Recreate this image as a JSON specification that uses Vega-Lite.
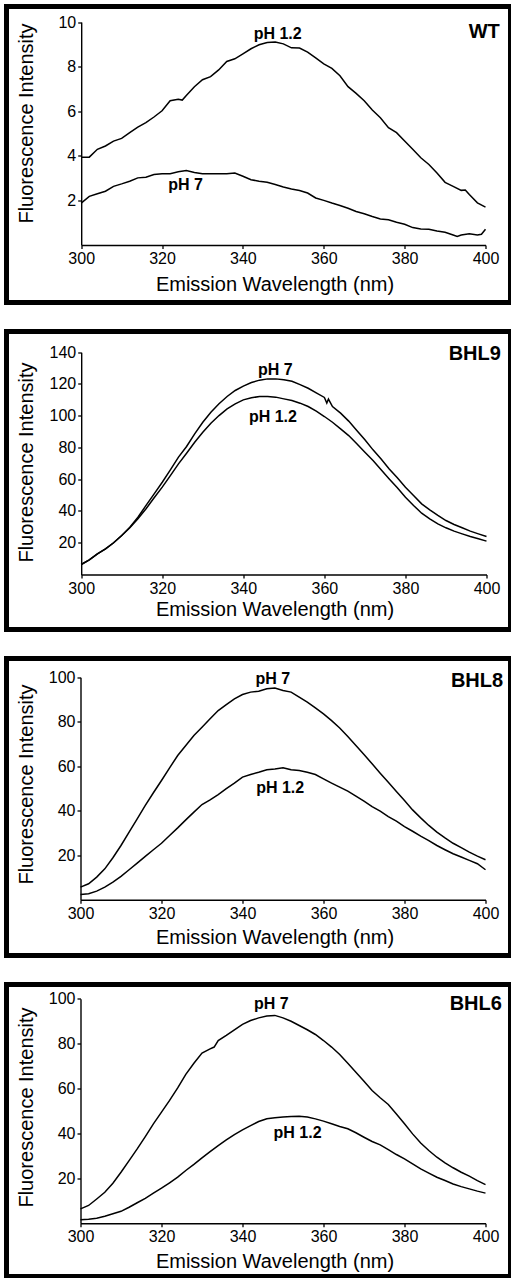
{
  "$schema": "https://vega.github.io/schema/vega-lite/v6.json",
  "padding": {"left": 3.5, "top": 3.5, "right": 0, "bottom": 0},
  "spacing": 29,
  "bounds": "flush",
  "background": "white",
  "config": {
    "font": "Liberation Sans",
    "view": {"stroke": "black", "strokeWidth": 5},
    "axis": {
      "grid": false,
      "domainColor": "black",
      "domainWidth": 1.4,
      "tickColor": "black",
      "tickWidth": 1.3,
      "tickSize": 3.5,
      "labelColor": "black",
      "labelFontSize": 16,
      "labelFont": "Liberation Sans",
      "labelFlush": false,
      "labelOverlap": false,
      "titleColor": "black",
      "titleFont": "Liberation Sans",
      "titleFontSize": 20,
      "titleFontWeight": "normal"
    }
  },
  "datasets": {
    "curves": [
      {"panel":"WT","ph":"pH 1.2","nm":300,"fi":3.94},{"panel":"WT","ph":"pH 1.2","nm":302,"fi":3.94},{"panel":"WT","ph":"pH 1.2","nm":304,"fi":4.29},{"panel":"WT","ph":"pH 1.2","nm":306,"fi":4.44},{"panel":"WT","ph":"pH 1.2","nm":308,"fi":4.66},{"panel":"WT","ph":"pH 1.2","nm":310,"fi":4.78},{"panel":"WT","ph":"pH 1.2","nm":312,"fi":5.04},{"panel":"WT","ph":"pH 1.2","nm":314,"fi":5.29},{"panel":"WT","ph":"pH 1.2","nm":316,"fi":5.49},{"panel":"WT","ph":"pH 1.2","nm":318,"fi":5.74},{"panel":"WT","ph":"pH 1.2","nm":320,"fi":6.02},{"panel":"WT","ph":"pH 1.2","nm":322,"fi":6.47},{"panel":"WT","ph":"pH 1.2","nm":324,"fi":6.54},{"panel":"WT","ph":"pH 1.2","nm":325,"fi":6.5},{"panel":"WT","ph":"pH 1.2","nm":326,"fi":6.7},{"panel":"WT","ph":"pH 1.2","nm":328,"fi":7.1},{"panel":"WT","ph":"pH 1.2","nm":330,"fi":7.41},{"panel":"WT","ph":"pH 1.2","nm":332,"fi":7.55},{"panel":"WT","ph":"pH 1.2","nm":334,"fi":7.85},{"panel":"WT","ph":"pH 1.2","nm":336,"fi":8.23},{"panel":"WT","ph":"pH 1.2","nm":338,"fi":8.35},{"panel":"WT","ph":"pH 1.2","nm":340,"fi":8.57},{"panel":"WT","ph":"pH 1.2","nm":342,"fi":8.8},{"panel":"WT","ph":"pH 1.2","nm":344,"fi":8.98},{"panel":"WT","ph":"pH 1.2","nm":346,"fi":9.08},{"panel":"WT","ph":"pH 1.2","nm":348,"fi":9.1},{"panel":"WT","ph":"pH 1.2","nm":350,"fi":9.02},{"panel":"WT","ph":"pH 1.2","nm":352,"fi":8.84},{"panel":"WT","ph":"pH 1.2","nm":354,"fi":8.83},{"panel":"WT","ph":"pH 1.2","nm":356,"fi":8.65},{"panel":"WT","ph":"pH 1.2","nm":358,"fi":8.39},{"panel":"WT","ph":"pH 1.2","nm":360,"fi":8.12},{"panel":"WT","ph":"pH 1.2","nm":362,"fi":7.92},{"panel":"WT","ph":"pH 1.2","nm":364,"fi":7.59},{"panel":"WT","ph":"pH 1.2","nm":366,"fi":7.1},{"panel":"WT","ph":"pH 1.2","nm":368,"fi":6.8},{"panel":"WT","ph":"pH 1.2","nm":370,"fi":6.47},{"panel":"WT","ph":"pH 1.2","nm":372,"fi":6.05},{"panel":"WT","ph":"pH 1.2","nm":374,"fi":5.71},{"panel":"WT","ph":"pH 1.2","nm":376,"fi":5.26},{"panel":"WT","ph":"pH 1.2","nm":378,"fi":5.04},{"panel":"WT","ph":"pH 1.2","nm":380,"fi":4.66},{"panel":"WT","ph":"pH 1.2","nm":382,"fi":4.29},{"panel":"WT","ph":"pH 1.2","nm":384,"fi":3.91},{"panel":"WT","ph":"pH 1.2","nm":386,"fi":3.61},{"panel":"WT","ph":"pH 1.2","nm":388,"fi":3.23},{"panel":"WT","ph":"pH 1.2","nm":390,"fi":2.81},{"panel":"WT","ph":"pH 1.2","nm":392,"fi":2.63},{"panel":"WT","ph":"pH 1.2","nm":394,"fi":2.45},{"panel":"WT","ph":"pH 1.2","nm":395,"fi":2.47},{"panel":"WT","ph":"pH 1.2","nm":396,"fi":2.26},{"panel":"WT","ph":"pH 1.2","nm":398,"fi":1.89},{"panel":"WT","ph":"pH 1.2","nm":400,"fi":1.7},
      {"panel":"WT","ph":"pH 7","nm":300,"fi":1.88},{"panel":"WT","ph":"pH 7","nm":302,"fi":2.18},{"panel":"WT","ph":"pH 7","nm":304,"fi":2.3},{"panel":"WT","ph":"pH 7","nm":306,"fi":2.41},{"panel":"WT","ph":"pH 7","nm":308,"fi":2.63},{"panel":"WT","ph":"pH 7","nm":310,"fi":2.74},{"panel":"WT","ph":"pH 7","nm":312,"fi":2.86},{"panel":"WT","ph":"pH 7","nm":314,"fi":3.01},{"panel":"WT","ph":"pH 7","nm":316,"fi":3.04},{"panel":"WT","ph":"pH 7","nm":318,"fi":3.16},{"panel":"WT","ph":"pH 7","nm":320,"fi":3.19},{"panel":"WT","ph":"pH 7","nm":322,"fi":3.2},{"panel":"WT","ph":"pH 7","nm":324,"fi":3.28},{"panel":"WT","ph":"pH 7","nm":326,"fi":3.34},{"panel":"WT","ph":"pH 7","nm":328,"fi":3.25},{"panel":"WT","ph":"pH 7","nm":330,"fi":3.2},{"panel":"WT","ph":"pH 7","nm":332,"fi":3.19},{"panel":"WT","ph":"pH 7","nm":334,"fi":3.19},{"panel":"WT","ph":"pH 7","nm":336,"fi":3.2},{"panel":"WT","ph":"pH 7","nm":338,"fi":3.23},{"panel":"WT","ph":"pH 7","nm":340,"fi":3.08},{"panel":"WT","ph":"pH 7","nm":342,"fi":2.93},{"panel":"WT","ph":"pH 7","nm":344,"fi":2.86},{"panel":"WT","ph":"pH 7","nm":346,"fi":2.81},{"panel":"WT","ph":"pH 7","nm":348,"fi":2.71},{"panel":"WT","ph":"pH 7","nm":350,"fi":2.6},{"panel":"WT","ph":"pH 7","nm":352,"fi":2.51},{"panel":"WT","ph":"pH 7","nm":354,"fi":2.44},{"panel":"WT","ph":"pH 7","nm":356,"fi":2.33},{"panel":"WT","ph":"pH 7","nm":358,"fi":2.11},{"panel":"WT","ph":"pH 7","nm":360,"fi":2.0},{"panel":"WT","ph":"pH 7","nm":362,"fi":1.88},{"panel":"WT","ph":"pH 7","nm":364,"fi":1.77},{"panel":"WT","ph":"pH 7","nm":366,"fi":1.65},{"panel":"WT","ph":"pH 7","nm":368,"fi":1.5},{"panel":"WT","ph":"pH 7","nm":370,"fi":1.4},{"panel":"WT","ph":"pH 7","nm":372,"fi":1.28},{"panel":"WT","ph":"pH 7","nm":374,"fi":1.17},{"panel":"WT","ph":"pH 7","nm":376,"fi":1.13},{"panel":"WT","ph":"pH 7","nm":378,"fi":1.02},{"panel":"WT","ph":"pH 7","nm":380,"fi":0.93},{"panel":"WT","ph":"pH 7","nm":382,"fi":0.78},{"panel":"WT","ph":"pH 7","nm":384,"fi":0.72},{"panel":"WT","ph":"pH 7","nm":386,"fi":0.71},{"panel":"WT","ph":"pH 7","nm":388,"fi":0.63},{"panel":"WT","ph":"pH 7","nm":390,"fi":0.57},{"panel":"WT","ph":"pH 7","nm":392,"fi":0.45},{"panel":"WT","ph":"pH 7","nm":393,"fi":0.38},{"panel":"WT","ph":"pH 7","nm":394,"fi":0.45},{"panel":"WT","ph":"pH 7","nm":396,"fi":0.5},{"panel":"WT","ph":"pH 7","nm":398,"fi":0.45},{"panel":"WT","ph":"pH 7","nm":399,"fi":0.48},{"panel":"WT","ph":"pH 7","nm":400,"fi":0.71},

      {"panel":"BHL9","ph":"pH 7","nm":300,"fi":6.3},{"panel":"BHL9","ph":"pH 7","nm":302,"fi":9.2},{"panel":"BHL9","ph":"pH 7","nm":304,"fi":13},{"panel":"BHL9","ph":"pH 7","nm":306,"fi":16.2},{"panel":"BHL9","ph":"pH 7","nm":308,"fi":20},{"panel":"BHL9","ph":"pH 7","nm":310,"fi":24.6},{"panel":"BHL9","ph":"pH 7","nm":312,"fi":29.8},{"panel":"BHL9","ph":"pH 7","nm":314,"fi":36.1},{"panel":"BHL9","ph":"pH 7","nm":316,"fi":43.5},{"panel":"BHL9","ph":"pH 7","nm":318,"fi":50.8},{"panel":"BHL9","ph":"pH 7","nm":320,"fi":58.1},{"panel":"BHL9","ph":"pH 7","nm":322,"fi":65.9},{"panel":"BHL9","ph":"pH 7","nm":324,"fi":73.9},{"panel":"BHL9","ph":"pH 7","nm":326,"fi":80.6},{"panel":"BHL9","ph":"pH 7","nm":328,"fi":88.6},{"panel":"BHL9","ph":"pH 7","nm":330,"fi":95.9},{"panel":"BHL9","ph":"pH 7","nm":332,"fi":102.2},{"panel":"BHL9","ph":"pH 7","nm":334,"fi":107.5},{"panel":"BHL9","ph":"pH 7","nm":336,"fi":112.1},{"panel":"BHL9","ph":"pH 7","nm":338,"fi":115.9},{"panel":"BHL9","ph":"pH 7","nm":340,"fi":118.6},{"panel":"BHL9","ph":"pH 7","nm":342,"fi":120.9},{"panel":"BHL9","ph":"pH 7","nm":344,"fi":122.4},{"panel":"BHL9","ph":"pH 7","nm":346,"fi":123.2},{"panel":"BHL9","ph":"pH 7","nm":348,"fi":123.2},{"panel":"BHL9","ph":"pH 7","nm":350,"fi":122.6},{"panel":"BHL9","ph":"pH 7","nm":352,"fi":121.7},{"panel":"BHL9","ph":"pH 7","nm":354,"fi":119.6},{"panel":"BHL9","ph":"pH 7","nm":356,"fi":117.3},{"panel":"BHL9","ph":"pH 7","nm":358,"fi":114.4},{"panel":"BHL9","ph":"pH 7","nm":360,"fi":111.5},{"panel":"BHL9","ph":"pH 7","nm":360.6,"fi":108},{"panel":"BHL9","ph":"pH 7","nm":361,"fi":110.5},{"panel":"BHL9","ph":"pH 7","nm":362,"fi":105.8},{"panel":"BHL9","ph":"pH 7","nm":364,"fi":101.6},{"panel":"BHL9","ph":"pH 7","nm":366,"fi":96.6},{"panel":"BHL9","ph":"pH 7","nm":368,"fi":90.7},{"panel":"BHL9","ph":"pH 7","nm":370,"fi":84.8},{"panel":"BHL9","ph":"pH 7","nm":372,"fi":78.5},{"panel":"BHL9","ph":"pH 7","nm":374,"fi":72.8},{"panel":"BHL9","ph":"pH 7","nm":376,"fi":66.5},{"panel":"BHL9","ph":"pH 7","nm":378,"fi":60.9},{"panel":"BHL9","ph":"pH 7","nm":380,"fi":55},{"panel":"BHL9","ph":"pH 7","nm":382,"fi":49.8},{"panel":"BHL9","ph":"pH 7","nm":384,"fi":44.5},{"panel":"BHL9","ph":"pH 7","nm":386,"fi":40.7},{"panel":"BHL9","ph":"pH 7","nm":388,"fi":37.2},{"panel":"BHL9","ph":"pH 7","nm":390,"fi":34},{"panel":"BHL9","ph":"pH 7","nm":392,"fi":31.5},{"panel":"BHL9","ph":"pH 7","nm":394,"fi":29.4},{"panel":"BHL9","ph":"pH 7","nm":396,"fi":27.3},{"panel":"BHL9","ph":"pH 7","nm":398,"fi":25.6},{"panel":"BHL9","ph":"pH 7","nm":400,"fi":23.9},
      {"panel":"BHL9","ph":"pH 1.2","nm":300,"fi":6.3},{"panel":"BHL9","ph":"pH 1.2","nm":302,"fi":9.2},{"panel":"BHL9","ph":"pH 1.2","nm":304,"fi":13},{"panel":"BHL9","ph":"pH 1.2","nm":306,"fi":16.2},{"panel":"BHL9","ph":"pH 1.2","nm":308,"fi":20},{"panel":"BHL9","ph":"pH 1.2","nm":310,"fi":24.6},{"panel":"BHL9","ph":"pH 1.2","nm":312,"fi":29.4},{"panel":"BHL9","ph":"pH 1.2","nm":314,"fi":35.1},{"panel":"BHL9","ph":"pH 1.2","nm":316,"fi":41.4},{"panel":"BHL9","ph":"pH 1.2","nm":318,"fi":48.3},{"panel":"BHL9","ph":"pH 1.2","nm":320,"fi":55},{"panel":"BHL9","ph":"pH 1.2","nm":322,"fi":62.3},{"panel":"BHL9","ph":"pH 1.2","nm":324,"fi":69.7},{"panel":"BHL9","ph":"pH 1.2","nm":326,"fi":76.4},{"panel":"BHL9","ph":"pH 1.2","nm":328,"fi":83.3},{"panel":"BHL9","ph":"pH 1.2","nm":330,"fi":89.6},{"panel":"BHL9","ph":"pH 1.2","nm":332,"fi":95.3},{"panel":"BHL9","ph":"pH 1.2","nm":334,"fi":100.1},{"panel":"BHL9","ph":"pH 1.2","nm":336,"fi":104.3},{"panel":"BHL9","ph":"pH 1.2","nm":338,"fi":107.5},{"panel":"BHL9","ph":"pH 1.2","nm":340,"fi":110},{"panel":"BHL9","ph":"pH 1.2","nm":342,"fi":111.3},{"panel":"BHL9","ph":"pH 1.2","nm":344,"fi":112.1},{"panel":"BHL9","ph":"pH 1.2","nm":346,"fi":112.1},{"panel":"BHL9","ph":"pH 1.2","nm":348,"fi":111.7},{"panel":"BHL9","ph":"pH 1.2","nm":350,"fi":110.6},{"panel":"BHL9","ph":"pH 1.2","nm":352,"fi":109.6},{"panel":"BHL9","ph":"pH 1.2","nm":354,"fi":107.9},{"panel":"BHL9","ph":"pH 1.2","nm":356,"fi":105.8},{"panel":"BHL9","ph":"pH 1.2","nm":358,"fi":102.9},{"panel":"BHL9","ph":"pH 1.2","nm":360,"fi":99.5},{"panel":"BHL9","ph":"pH 1.2","nm":362,"fi":95.9},{"panel":"BHL9","ph":"pH 1.2","nm":364,"fi":91.7},{"panel":"BHL9","ph":"pH 1.2","nm":366,"fi":87.5},{"panel":"BHL9","ph":"pH 1.2","nm":368,"fi":82.3},{"panel":"BHL9","ph":"pH 1.2","nm":370,"fi":77},{"panel":"BHL9","ph":"pH 1.2","nm":372,"fi":71.8},{"panel":"BHL9","ph":"pH 1.2","nm":374,"fi":65.9},{"panel":"BHL9","ph":"pH 1.2","nm":376,"fi":60.2},{"panel":"BHL9","ph":"pH 1.2","nm":378,"fi":54.6},{"panel":"BHL9","ph":"pH 1.2","nm":380,"fi":48.7},{"panel":"BHL9","ph":"pH 1.2","nm":382,"fi":43.5},{"panel":"BHL9","ph":"pH 1.2","nm":384,"fi":38.6},{"panel":"BHL9","ph":"pH 1.2","nm":386,"fi":35.1},{"panel":"BHL9","ph":"pH 1.2","nm":388,"fi":31.9},{"panel":"BHL9","ph":"pH 1.2","nm":390,"fi":29.4},{"panel":"BHL9","ph":"pH 1.2","nm":392,"fi":27.3},{"panel":"BHL9","ph":"pH 1.2","nm":394,"fi":25.6},{"panel":"BHL9","ph":"pH 1.2","nm":396,"fi":23.9},{"panel":"BHL9","ph":"pH 1.2","nm":398,"fi":22.5},{"panel":"BHL9","ph":"pH 1.2","nm":400,"fi":21},

      {"panel":"BHL8","ph":"pH 7","nm":300,"fi":5.7},{"panel":"BHL8","ph":"pH 7","nm":302,"fi":7.2},{"panel":"BHL8","ph":"pH 7","nm":304,"fi":10.2},{"panel":"BHL8","ph":"pH 7","nm":306,"fi":13.9},{"panel":"BHL8","ph":"pH 7","nm":308,"fi":18.9},{"panel":"BHL8","ph":"pH 7","nm":310,"fi":24.4},{"panel":"BHL8","ph":"pH 7","nm":312,"fi":30.4},{"panel":"BHL8","ph":"pH 7","nm":314,"fi":36.4},{"panel":"BHL8","ph":"pH 7","nm":316,"fi":42.4},{"panel":"BHL8","ph":"pH 7","nm":318,"fi":48.1},{"panel":"BHL8","ph":"pH 7","nm":320,"fi":53.6},{"panel":"BHL8","ph":"pH 7","nm":322,"fi":59.3},{"panel":"BHL8","ph":"pH 7","nm":324,"fi":64.8},{"panel":"BHL8","ph":"pH 7","nm":326,"fi":69.3},{"panel":"BHL8","ph":"pH 7","nm":328,"fi":73.8},{"panel":"BHL8","ph":"pH 7","nm":330,"fi":77.5},{"panel":"BHL8","ph":"pH 7","nm":332,"fi":81.3},{"panel":"BHL8","ph":"pH 7","nm":334,"fi":85},{"panel":"BHL8","ph":"pH 7","nm":336,"fi":87.7},{"panel":"BHL8","ph":"pH 7","nm":338,"fi":90.3},{"panel":"BHL8","ph":"pH 7","nm":340,"fi":92.2},{"panel":"BHL8","ph":"pH 7","nm":342,"fi":93.3},{"panel":"BHL8","ph":"pH 7","nm":344,"fi":93.7},{"panel":"BHL8","ph":"pH 7","nm":346,"fi":94.8},{"panel":"BHL8","ph":"pH 7","nm":348,"fi":95.1},{"panel":"BHL8","ph":"pH 7","nm":350,"fi":94},{"panel":"BHL8","ph":"pH 7","nm":352,"fi":93.3},{"panel":"BHL8","ph":"pH 7","nm":354,"fi":91},{"panel":"BHL8","ph":"pH 7","nm":356,"fi":88.8},{"panel":"BHL8","ph":"pH 7","nm":358,"fi":86.2},{"panel":"BHL8","ph":"pH 7","nm":360,"fi":83.5},{"panel":"BHL8","ph":"pH 7","nm":362,"fi":80.5},{"panel":"BHL8","ph":"pH 7","nm":364,"fi":77.2},{"panel":"BHL8","ph":"pH 7","nm":366,"fi":73.4},{"panel":"BHL8","ph":"pH 7","nm":368,"fi":69.3},{"panel":"BHL8","ph":"pH 7","nm":370,"fi":65.3},{"panel":"BHL8","ph":"pH 7","nm":372,"fi":61.1},{"panel":"BHL8","ph":"pH 7","nm":374,"fi":56.9},{"panel":"BHL8","ph":"pH 7","nm":376,"fi":52.8},{"panel":"BHL8","ph":"pH 7","nm":378,"fi":48.7},{"panel":"BHL8","ph":"pH 7","nm":380,"fi":44.6},{"panel":"BHL8","ph":"pH 7","nm":382,"fi":40.4},{"panel":"BHL8","ph":"pH 7","nm":384,"fi":36.8},{"panel":"BHL8","ph":"pH 7","nm":386,"fi":33.4},{"panel":"BHL8","ph":"pH 7","nm":388,"fi":30.4},{"panel":"BHL8","ph":"pH 7","nm":390,"fi":27.8},{"panel":"BHL8","ph":"pH 7","nm":392,"fi":25.4},{"panel":"BHL8","ph":"pH 7","nm":394,"fi":23.4},{"panel":"BHL8","ph":"pH 7","nm":396,"fi":21.4},{"panel":"BHL8","ph":"pH 7","nm":398,"fi":19.6},{"panel":"BHL8","ph":"pH 7","nm":400,"fi":18},
      {"panel":"BHL8","ph":"pH 1.2","nm":300,"fi":2.4},{"panel":"BHL8","ph":"pH 1.2","nm":302,"fi":2.7},{"panel":"BHL8","ph":"pH 1.2","nm":304,"fi":3.9},{"panel":"BHL8","ph":"pH 1.2","nm":306,"fi":5.7},{"panel":"BHL8","ph":"pH 1.2","nm":308,"fi":7.9},{"panel":"BHL8","ph":"pH 1.2","nm":310,"fi":10.5},{"panel":"BHL8","ph":"pH 1.2","nm":312,"fi":13.5},{"panel":"BHL8","ph":"pH 1.2","nm":314,"fi":16.5},{"panel":"BHL8","ph":"pH 1.2","nm":316,"fi":19.5},{"panel":"BHL8","ph":"pH 1.2","nm":318,"fi":22.5},{"panel":"BHL8","ph":"pH 1.2","nm":320,"fi":25.4},{"panel":"BHL8","ph":"pH 1.2","nm":322,"fi":28.9},{"panel":"BHL8","ph":"pH 1.2","nm":324,"fi":32.3},{"panel":"BHL8","ph":"pH 1.2","nm":326,"fi":35.9},{"panel":"BHL8","ph":"pH 1.2","nm":328,"fi":39.4},{"panel":"BHL8","ph":"pH 1.2","nm":330,"fi":42.8},{"panel":"BHL8","ph":"pH 1.2","nm":332,"fi":44.9},{"panel":"BHL8","ph":"pH 1.2","nm":334,"fi":47.3},{"panel":"BHL8","ph":"pH 1.2","nm":336,"fi":49.9},{"panel":"BHL8","ph":"pH 1.2","nm":338,"fi":52.4},{"panel":"BHL8","ph":"pH 1.2","nm":340,"fi":55.1},{"panel":"BHL8","ph":"pH 1.2","nm":342,"fi":56.3},{"panel":"BHL8","ph":"pH 1.2","nm":344,"fi":57.3},{"panel":"BHL8","ph":"pH 1.2","nm":346,"fi":58.4},{"panel":"BHL8","ph":"pH 1.2","nm":348,"fi":58.8},{"panel":"BHL8","ph":"pH 1.2","nm":350,"fi":59.3},{"panel":"BHL8","ph":"pH 1.2","nm":352,"fi":58.4},{"panel":"BHL8","ph":"pH 1.2","nm":354,"fi":58.1},{"panel":"BHL8","ph":"pH 1.2","nm":356,"fi":57.3},{"panel":"BHL8","ph":"pH 1.2","nm":358,"fi":56.3},{"panel":"BHL8","ph":"pH 1.2","nm":360,"fi":54.3},{"panel":"BHL8","ph":"pH 1.2","nm":362,"fi":52.4},{"panel":"BHL8","ph":"pH 1.2","nm":364,"fi":50.6},{"panel":"BHL8","ph":"pH 1.2","nm":366,"fi":48.8},{"panel":"BHL8","ph":"pH 1.2","nm":368,"fi":46.6},{"panel":"BHL8","ph":"pH 1.2","nm":370,"fi":44.3},{"panel":"BHL8","ph":"pH 1.2","nm":372,"fi":41.9},{"panel":"BHL8","ph":"pH 1.2","nm":374,"fi":39.8},{"panel":"BHL8","ph":"pH 1.2","nm":376,"fi":37.4},{"panel":"BHL8","ph":"pH 1.2","nm":378,"fi":35.3},{"panel":"BHL8","ph":"pH 1.2","nm":380,"fi":32.9},{"panel":"BHL8","ph":"pH 1.2","nm":382,"fi":30.8},{"panel":"BHL8","ph":"pH 1.2","nm":384,"fi":28.6},{"panel":"BHL8","ph":"pH 1.2","nm":386,"fi":26.6},{"panel":"BHL8","ph":"pH 1.2","nm":388,"fi":24.4},{"panel":"BHL8","ph":"pH 1.2","nm":390,"fi":22.5},{"panel":"BHL8","ph":"pH 1.2","nm":392,"fi":20.7},{"panel":"BHL8","ph":"pH 1.2","nm":394,"fi":19.2},{"panel":"BHL8","ph":"pH 1.2","nm":396,"fi":17.7},{"panel":"BHL8","ph":"pH 1.2","nm":398,"fi":16.2},{"panel":"BHL8","ph":"pH 1.2","nm":400,"fi":13.5},

      {"panel":"BHL6","ph":"pH 7","nm":300,"fi":6.4},{"panel":"BHL6","ph":"pH 7","nm":302,"fi":7.9},{"panel":"BHL6","ph":"pH 7","nm":304,"fi":10.8},{"panel":"BHL6","ph":"pH 7","nm":306,"fi":13.8},{"panel":"BHL6","ph":"pH 7","nm":308,"fi":17.8},{"panel":"BHL6","ph":"pH 7","nm":310,"fi":22.7},{"panel":"BHL6","ph":"pH 7","nm":312,"fi":27.9},{"panel":"BHL6","ph":"pH 7","nm":314,"fi":33.1},{"panel":"BHL6","ph":"pH 7","nm":316,"fi":38.6},{"panel":"BHL6","ph":"pH 7","nm":318,"fi":44.3},{"panel":"BHL6","ph":"pH 7","nm":320,"fi":49.5},{"panel":"BHL6","ph":"pH 7","nm":322,"fi":54.7},{"panel":"BHL6","ph":"pH 7","nm":324,"fi":60.3},{"panel":"BHL6","ph":"pH 7","nm":326,"fi":66.3},{"panel":"BHL6","ph":"pH 7","nm":328,"fi":71.3},{"panel":"BHL6","ph":"pH 7","nm":330,"fi":75.8},{"panel":"BHL6","ph":"pH 7","nm":332,"fi":77.7},{"panel":"BHL6","ph":"pH 7","nm":333,"fi":78.5},{"panel":"BHL6","ph":"pH 7","nm":334,"fi":81.4},{"panel":"BHL6","ph":"pH 7","nm":336,"fi":83.7},{"panel":"BHL6","ph":"pH 7","nm":338,"fi":86.2},{"panel":"BHL6","ph":"pH 7","nm":340,"fi":88.6},{"panel":"BHL6","ph":"pH 7","nm":342,"fi":90.3},{"panel":"BHL6","ph":"pH 7","nm":344,"fi":91.5},{"panel":"BHL6","ph":"pH 7","nm":346,"fi":92.3},{"panel":"BHL6","ph":"pH 7","nm":348,"fi":92.6},{"panel":"BHL6","ph":"pH 7","nm":350,"fi":91.5},{"panel":"BHL6","ph":"pH 7","nm":352,"fi":90},{"panel":"BHL6","ph":"pH 7","nm":354,"fi":88.1},{"panel":"BHL6","ph":"pH 7","nm":356,"fi":86.2},{"panel":"BHL6","ph":"pH 7","nm":358,"fi":84.1},{"panel":"BHL6","ph":"pH 7","nm":360,"fi":81.4},{"panel":"BHL6","ph":"pH 7","nm":362,"fi":78.5},{"panel":"BHL6","ph":"pH 7","nm":364,"fi":75.2},{"panel":"BHL6","ph":"pH 7","nm":366,"fi":71.3},{"panel":"BHL6","ph":"pH 7","nm":368,"fi":67.3},{"panel":"BHL6","ph":"pH 7","nm":370,"fi":63.3},{"panel":"BHL6","ph":"pH 7","nm":372,"fi":59.1},{"panel":"BHL6","ph":"pH 7","nm":374,"fi":55.9},{"panel":"BHL6","ph":"pH 7","nm":376,"fi":52.9},{"panel":"BHL6","ph":"pH 7","nm":378,"fi":48.7},{"panel":"BHL6","ph":"pH 7","nm":380,"fi":44.3},{"panel":"BHL6","ph":"pH 7","nm":382,"fi":39.8},{"panel":"BHL6","ph":"pH 7","nm":384,"fi":35.7},{"panel":"BHL6","ph":"pH 7","nm":386,"fi":32.4},{"panel":"BHL6","ph":"pH 7","nm":388,"fi":29.4},{"panel":"BHL6","ph":"pH 7","nm":390,"fi":26.9},{"panel":"BHL6","ph":"pH 7","nm":392,"fi":24.7},{"panel":"BHL6","ph":"pH 7","nm":394,"fi":22.7},{"panel":"BHL6","ph":"pH 7","nm":396,"fi":21},{"panel":"BHL6","ph":"pH 7","nm":398,"fi":19},{"panel":"BHL6","ph":"pH 7","nm":400,"fi":17.2},
      {"panel":"BHL6","ph":"pH 1.2","nm":300,"fi":1.5},{"panel":"BHL6","ph":"pH 1.2","nm":302,"fi":1.8},{"panel":"BHL6","ph":"pH 1.2","nm":304,"fi":2.2},{"panel":"BHL6","ph":"pH 1.2","nm":306,"fi":3.1},{"panel":"BHL6","ph":"pH 1.2","nm":308,"fi":4.2},{"panel":"BHL6","ph":"pH 1.2","nm":310,"fi":5.3},{"panel":"BHL6","ph":"pH 1.2","nm":312,"fi":7.1},{"panel":"BHL6","ph":"pH 1.2","nm":314,"fi":9.1},{"panel":"BHL6","ph":"pH 1.2","nm":316,"fi":11.1},{"panel":"BHL6","ph":"pH 1.2","nm":318,"fi":13.4},{"panel":"BHL6","ph":"pH 1.2","nm":320,"fi":15.6},{"panel":"BHL6","ph":"pH 1.2","nm":322,"fi":18},{"panel":"BHL6","ph":"pH 1.2","nm":324,"fi":20.5},{"panel":"BHL6","ph":"pH 1.2","nm":326,"fi":23.5},{"panel":"BHL6","ph":"pH 1.2","nm":328,"fi":26.2},{"panel":"BHL6","ph":"pH 1.2","nm":330,"fi":29.1},{"panel":"BHL6","ph":"pH 1.2","nm":332,"fi":31.9},{"panel":"BHL6","ph":"pH 1.2","nm":334,"fi":34.6},{"panel":"BHL6","ph":"pH 1.2","nm":336,"fi":37.1},{"panel":"BHL6","ph":"pH 1.2","nm":338,"fi":39.5},{"panel":"BHL6","ph":"pH 1.2","nm":340,"fi":41.6},{"panel":"BHL6","ph":"pH 1.2","nm":342,"fi":43.5},{"panel":"BHL6","ph":"pH 1.2","nm":344,"fi":45.3},{"panel":"BHL6","ph":"pH 1.2","nm":346,"fi":46.5},{"panel":"BHL6","ph":"pH 1.2","nm":348,"fi":47},{"panel":"BHL6","ph":"pH 1.2","nm":350,"fi":47.3},{"panel":"BHL6","ph":"pH 1.2","nm":352,"fi":47.5},{"panel":"BHL6","ph":"pH 1.2","nm":354,"fi":47.7},{"panel":"BHL6","ph":"pH 1.2","nm":356,"fi":47.3},{"panel":"BHL6","ph":"pH 1.2","nm":358,"fi":46.5},{"panel":"BHL6","ph":"pH 1.2","nm":360,"fi":45.5},{"panel":"BHL6","ph":"pH 1.2","nm":362,"fi":44.3},{"panel":"BHL6","ph":"pH 1.2","nm":364,"fi":43.1},{"panel":"BHL6","ph":"pH 1.2","nm":366,"fi":42.1},{"panel":"BHL6","ph":"pH 1.2","nm":368,"fi":40.3},{"panel":"BHL6","ph":"pH 1.2","nm":370,"fi":38.3},{"panel":"BHL6","ph":"pH 1.2","nm":372,"fi":36.4},{"panel":"BHL6","ph":"pH 1.2","nm":374,"fi":34.9},{"panel":"BHL6","ph":"pH 1.2","nm":376,"fi":32.8},{"panel":"BHL6","ph":"pH 1.2","nm":378,"fi":30.6},{"panel":"BHL6","ph":"pH 1.2","nm":380,"fi":28.7},{"panel":"BHL6","ph":"pH 1.2","nm":382,"fi":26.4},{"panel":"BHL6","ph":"pH 1.2","nm":384,"fi":24.2},{"panel":"BHL6","ph":"pH 1.2","nm":386,"fi":22.3},{"panel":"BHL6","ph":"pH 1.2","nm":388,"fi":20.5},{"panel":"BHL6","ph":"pH 1.2","nm":390,"fi":19},{"panel":"BHL6","ph":"pH 1.2","nm":392,"fi":17.5},{"panel":"BHL6","ph":"pH 1.2","nm":394,"fi":16.3},{"panel":"BHL6","ph":"pH 1.2","nm":396,"fi":15.3},{"panel":"BHL6","ph":"pH 1.2","nm":398,"fi":14.3},{"panel":"BHL6","ph":"pH 1.2","nm":400,"fi":13.4}
    ],
    "labels": [
      {"panel":"WT","kind":"ph","label":"pH 1.2","nm":348.6,"fi":9.48},
      {"panel":"WT","kind":"ph","label":"pH 7","nm":325.8,"fi":2.71},
      {"panel":"WT","kind":"name","label":"WT","nm":399.7,"fi":9.53},
      {"panel":"BHL9","kind":"ph","label":"pH 7","nm":347.9,"fi":129},
      {"panel":"BHL9","kind":"ph","label":"pH 1.2","nm":347.3,"fi":99.5},
      {"panel":"BHL9","kind":"name","label":"BHL9","nm":397.1,"fi":139},
      {"panel":"BHL8","kind":"ph","label":"pH 7","nm":347.5,"fi":99},
      {"panel":"BHL8","kind":"ph","label":"pH 1.2","nm":349.3,"fi":50.2},
      {"panel":"BHL8","kind":"name","label":"BHL8","nm":397.9,"fi":98.5},
      {"panel":"BHL6","kind":"ph","label":"pH 7","nm":347.1,"fi":97.5},
      {"panel":"BHL6","kind":"ph","label":"pH 1.2","nm":353.6,"fi":40.2},
      {"panel":"BHL6","kind":"name","label":"BHL6","nm":397.6,"fi":97.8}
    ]
  },
  "vconcat": [
    {
      "width": 504, "height": 296,
      "encoding": {
        "x": {"field": "nm", "type": "quantitative",
          "scale": {"domain": [300, 400], "range": [74.7, 479], "nice": false, "zero": false},
          "axis": {"title": "Emission Wavelength (nm)", "values": [300, 320, 340, 360, 380, 400], "offset": -57.5, "labelPadding": 2, "titleX": 268, "titleY": 45.5, "titleBaseline": "alphabetic", "titleAlign": "center"}},
        "y": {"field": "fi", "type": "quantitative",
          "scale": {"domain": [0, 10], "range": [238.5, 15.5], "nice": false, "zero": false},
          "axis": {"title": "Fluorescence Intensity", "values": [2, 4, 6, 8, 10], "offset": -74.7, "labelPadding": 2, "titleX": -55, "titleY": 116.5, "titleBaseline": "middle", "titleAlign": "center", "titleAngle": -90}}
      },
      "layer": [
        {"data": {"name": "curves"}, "transform": [{"filter": "datum.panel === 'WT'"}],
         "mark": {"type": "line", "color": "black", "strokeWidth": 1.5},
         "encoding": {"detail": {"field": "ph"}}},
        {"data": {"name": "labels"}, "transform": [{"filter": "datum.panel === 'WT' && datum.kind === 'ph'"}],
         "mark": {"type": "text", "font": "Liberation Sans", "fontWeight": "bold", "fontSize": 16, "baseline": "middle", "align": "center", "color": "black"},
         "encoding": {"text": {"field": "label"}}},
        {"data": {"name": "labels"}, "transform": [{"filter": "datum.panel === 'WT' && datum.kind === 'name'"}],
         "mark": {"type": "text", "font": "Liberation Sans", "fontWeight": "bold", "fontSize": 20, "baseline": "middle", "align": "center", "color": "black"},
         "encoding": {"text": {"field": "label"}}}
      ]
    },
    {
      "width": 504, "height": 298,
      "encoding": {
        "x": {"field": "nm", "type": "quantitative",
          "scale": {"domain": [300, 400], "range": [74.7, 480], "nice": false, "zero": false},
          "axis": {"title": "Emission Wavelength (nm)", "values": [300, 320, 340, 360, 380, 400], "offset": -55, "labelPadding": 2, "titleX": 268, "titleY": 41, "titleBaseline": "alphabetic", "titleAlign": "center"}},
        "y": {"field": "fi", "type": "quantitative",
          "scale": {"domain": [0, 140], "range": [243, 20.7], "nice": false, "zero": false},
          "axis": {"title": "Fluorescence Intensity", "values": [20, 40, 60, 80, 100, 120, 140], "offset": -74.7, "labelPadding": 2, "titleX": -55, "titleY": 130.5, "titleBaseline": "middle", "titleAlign": "center", "titleAngle": -90}}
      },
      "layer": [
        {"data": {"name": "curves"}, "transform": [{"filter": "datum.panel === 'BHL9'"}],
         "mark": {"type": "line", "color": "black", "strokeWidth": 1.5},
         "encoding": {"detail": {"field": "ph"}}},
        {"data": {"name": "labels"}, "transform": [{"filter": "datum.panel === 'BHL9' && datum.kind === 'ph'"}],
         "mark": {"type": "text", "font": "Liberation Sans", "fontWeight": "bold", "fontSize": 16, "baseline": "middle", "align": "center", "color": "black"},
         "encoding": {"text": {"field": "label"}}},
        {"data": {"name": "labels"}, "transform": [{"filter": "datum.panel === 'BHL9' && datum.kind === 'name'"}],
         "mark": {"type": "text", "font": "Liberation Sans", "fontWeight": "bold", "fontSize": 20, "baseline": "middle", "align": "center", "color": "black"},
         "encoding": {"text": {"field": "label"}}}
      ]
    },
    {
      "width": 504, "height": 297,
      "encoding": {
        "x": {"field": "nm", "type": "quantitative",
          "scale": {"domain": [300, 400], "range": [74, 479], "nice": false, "zero": false},
          "axis": {"title": "Emission Wavelength (nm)", "values": [300, 320, 340, 360, 380, 400], "offset": -55.7, "labelPadding": 2, "titleX": 268, "titleY": 43.7, "titleBaseline": "alphabetic", "titleAlign": "center"}},
        "y": {"field": "fi", "type": "quantitative",
          "scale": {"domain": [0, 100], "range": [241.3, 18.7], "nice": false, "zero": false},
          "axis": {"title": "Fluorescence Intensity", "values": [20, 40, 60, 80, 100], "offset": -74, "labelPadding": 2, "titleX": -54.3, "titleY": 125.5, "titleBaseline": "middle", "titleAlign": "center", "titleAngle": -90}}
      },
      "layer": [
        {"data": {"name": "curves"}, "transform": [{"filter": "datum.panel === 'BHL8'"}],
         "mark": {"type": "line", "color": "black", "strokeWidth": 1.5},
         "encoding": {"detail": {"field": "ph"}}},
        {"data": {"name": "labels"}, "transform": [{"filter": "datum.panel === 'BHL8' && datum.kind === 'ph'"}],
         "mark": {"type": "text", "font": "Liberation Sans", "fontWeight": "bold", "fontSize": 16, "baseline": "middle", "align": "center", "color": "black"},
         "encoding": {"text": {"field": "label"}}},
        {"data": {"name": "labels"}, "transform": [{"filter": "datum.panel === 'BHL8' && datum.kind === 'name'"}],
         "mark": {"type": "text", "font": "Liberation Sans", "fontWeight": "bold", "fontSize": 20, "baseline": "middle", "align": "center", "color": "black"},
         "encoding": {"text": {"field": "label"}}}
      ]
    },
    {
      "width": 504, "height": 292,
      "encoding": {
        "x": {"field": "nm", "type": "quantitative",
          "scale": {"domain": [300, 400], "range": [74, 479], "nice": false, "zero": false},
          "axis": {"title": "Emission Wavelength (nm)", "values": [300, 320, 340, 360, 380, 400], "offset": -53.3, "labelPadding": 2, "titleX": 268, "titleY": 44, "titleBaseline": "alphabetic", "titleAlign": "center"}},
        "y": {"field": "fi", "type": "quantitative",
          "scale": {"domain": [0, 100], "range": [238.7, 14.3], "nice": false, "zero": false},
          "axis": {"title": "Fluorescence Intensity", "values": [20, 40, 60, 80, 100], "offset": -74, "labelPadding": 2, "titleX": -54.3, "titleY": 122.5, "titleBaseline": "middle", "titleAlign": "center", "titleAngle": -90}}
      },
      "layer": [
        {"data": {"name": "curves"}, "transform": [{"filter": "datum.panel === 'BHL6'"}],
         "mark": {"type": "line", "color": "black", "strokeWidth": 1.5},
         "encoding": {"detail": {"field": "ph"}}},
        {"data": {"name": "labels"}, "transform": [{"filter": "datum.panel === 'BHL6' && datum.kind === 'ph'"}],
         "mark": {"type": "text", "font": "Liberation Sans", "fontWeight": "bold", "fontSize": 16, "baseline": "middle", "align": "center", "color": "black"},
         "encoding": {"text": {"field": "label"}}},
        {"data": {"name": "labels"}, "transform": [{"filter": "datum.panel === 'BHL6' && datum.kind === 'name'"}],
         "mark": {"type": "text", "font": "Liberation Sans", "fontWeight": "bold", "fontSize": 20, "baseline": "middle", "align": "center", "color": "black"},
         "encoding": {"text": {"field": "label"}}}
      ]
    }
  ],
  "resolve": {"scale": {"x": "independent", "y": "independent"}}
}
